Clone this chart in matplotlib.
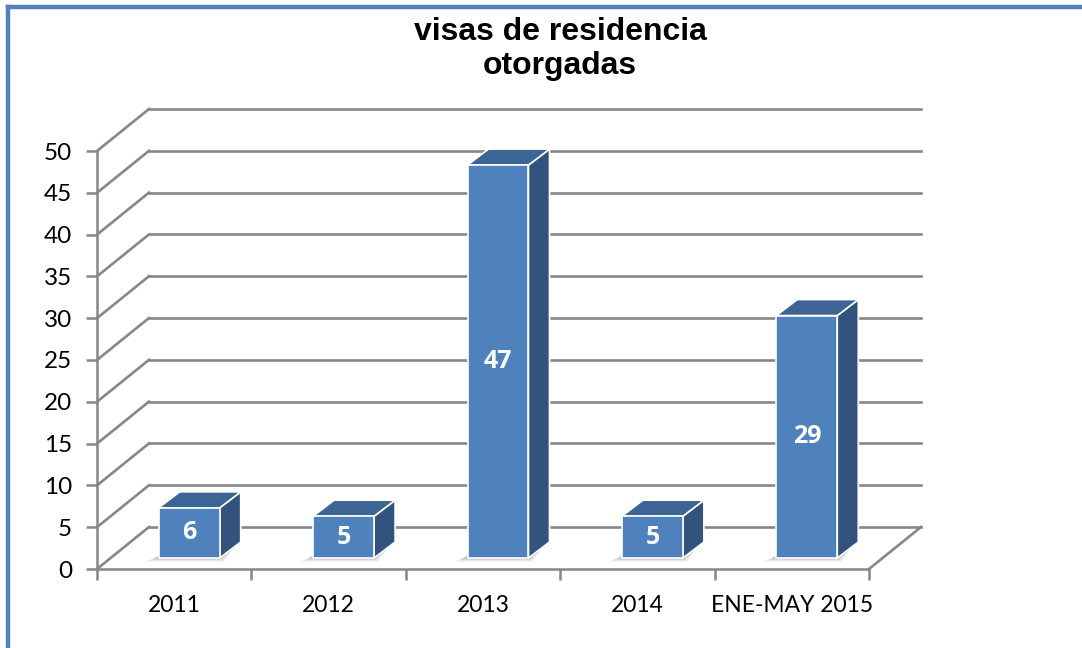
import matplotlib
matplotlib.use("Agg")
import matplotlib.pyplot as plt
import numpy as np
from matplotlib.patches import Polygon
from matplotlib.lines import Line2D
from matplotlib.transforms import IdentityTransform

categories = ["2011", "2012", "2013", "2014", "ENE-MAY 2015"]
values = [6, 5, 47, 5, 29]
yticks = list(range(0, 55, 5))
title = "visas de residencia\notorgadas"

W, H, DPI = 1082, 648, 100
fig = plt.figure(figsize=(W / DPI, H / DPI), dpi=DPI)
fig.patch.set_facecolor("white")

# front plane axes (pixel placement)
left_px, right_px, bottom_px, top_px = 97, 869, 569, 151
ax = fig.add_axes([left_px / W, (H - bottom_px) / H,
                   (right_px - left_px) / W, (bottom_px - top_px) / H])
ax.set_xlim(-0.5, len(categories) - 0.5)
ax.set_ylim(0, 50)
ax.patch.set_alpha(0)
for s in ["top", "right"]:
    ax.spines[s].set_visible(False)
grid_c = "#878787"
for s in ["left", "bottom"]:
    ax.spines[s].set_color(grid_c)
    ax.spines[s].set_linewidth(1.8)
ax.set_yticks(yticks)
ax.set_yticklabels([str(t) for t in yticks])
ax.set_xticks(range(len(categories)))
ax.set_xticklabels(categories)
ax.set_xticks(np.arange(-0.5, len(categories), 1.0), minor=True)
ax.tick_params(axis="x", which="major", length=0, pad=19, labelsize=16.5)
ax.tick_params(axis="x", which="minor", length=8, width=1.8, color=grid_c)
ax.tick_params(axis="y", length=8, width=1.8, color=grid_c, pad=10, labelsize=17.5)
for lab in ax.get_xticklabels() + ax.get_yticklabels():
    lab.set_fontfamily("Lato")

BACK = np.array([52.0, 42.0])     # depth offset of back wall (px)
BAR_FRONT = np.array([15.0, 11.0])
BAR_DEPTH = np.array([21.0, 16.0])
bar_w = 0.395

def P(x, y, off=(0, 0)):
    d = ax.transData.transform((x, y))
    return d + np.asarray(off)

idt = IdentityTransform()
x0, x1 = -0.5, len(categories) - 0.5
# back wall gridlines + side wall diagonals
for t in yticks:
    a, b = P(x0, t, BACK), P(x1, t, BACK)
    fig.add_artist(Line2D([a[0], b[0]], [a[1], b[1]], transform=idt, color=grid_c, lw=1.9, zorder=1))
    f = P(x0, t)
    fig.add_artist(Line2D([f[0], a[0]], [f[1], a[1]], transform=idt, color=grid_c, lw=1.9, zorder=1))
# floor right diagonal
f, a = P(x1, 0), P(x1, 0, BACK)
fig.add_artist(Line2D([f[0], a[0]], [f[1], a[1]], transform=idt, color=grid_c, lw=1.9, zorder=1))

front_c, top_c, side_c = "#4F81BD", "#3C6494", "#33537F"
for i, v in enumerate(values):
    xl, xr = i - bar_w / 2, i + bar_w / 2
    # soft shadow on floor
    for k, al in enumerate([0.08, 0.10, 0.13, 0.16]):
        g = 10 - 3 * k
        sh = [P(xl - 0.06, 0, BAR_FRONT + np.array([-g + 6, -4 + k])),
              P(xr, 0, BAR_FRONT + np.array([4 - k, -4 + k])),
              P(xr, 0, BAR_FRONT + BAR_DEPTH * 0.7),
              P(xl, 0, BAR_FRONT + BAR_DEPTH * 0.7)]
        fig.add_artist(Polygon(sh, closed=True, transform=idt, facecolor="#707070",
                               edgecolor="none", alpha=al, zorder=2))
    front = [P(xl, 0, BAR_FRONT), P(xr, 0, BAR_FRONT), P(xr, v, BAR_FRONT), P(xl, v, BAR_FRONT)]
    top = [P(xl, v, BAR_FRONT), P(xr, v, BAR_FRONT), P(xr, v, BAR_FRONT + BAR_DEPTH), P(xl, v, BAR_FRONT + BAR_DEPTH)]
    side = [P(xr, 0, BAR_FRONT), P(xr, 0, BAR_FRONT + BAR_DEPTH), P(xr, v, BAR_FRONT + BAR_DEPTH), P(xr, v, BAR_FRONT)]
    for poly, c in [(side, side_c), (top, top_c), (front, front_c)]:
        fig.add_artist(Polygon(poly, closed=True, transform=idt, facecolor=c,
                               edgecolor="white", lw=1.2, zorder=3, joinstyle="round"))
    cpos = P(i, v / 2, BAR_FRONT)
    fig.text(cpos[0] / W, cpos[1] / H, str(v), ha="center", va="center", color="white",
             fontsize=18, fontweight="bold", fontfamily="Open Sans", zorder=5)

fig.text(560 / W, 1 - 49 / H, title, ha="center", va="center", fontsize=23,
         fontweight="bold", fontfamily="Liberation Sans", linespacing=1.15)

# blue frame (left and top)
bc = "#4F81BD"
fig.add_artist(Line2D([8 / W, 8 / W], [0, 1 - 6.5 / H], color=bc, lw=3.2, transform=fig.transFigure))
fig.add_artist(Line2D([8 / W, 1], [1 - 6.5 / H, 1 - 6.5 / H], color=bc, lw=3.2, transform=fig.transFigure))

fig.savefig("out.png", dpi=DPI)
